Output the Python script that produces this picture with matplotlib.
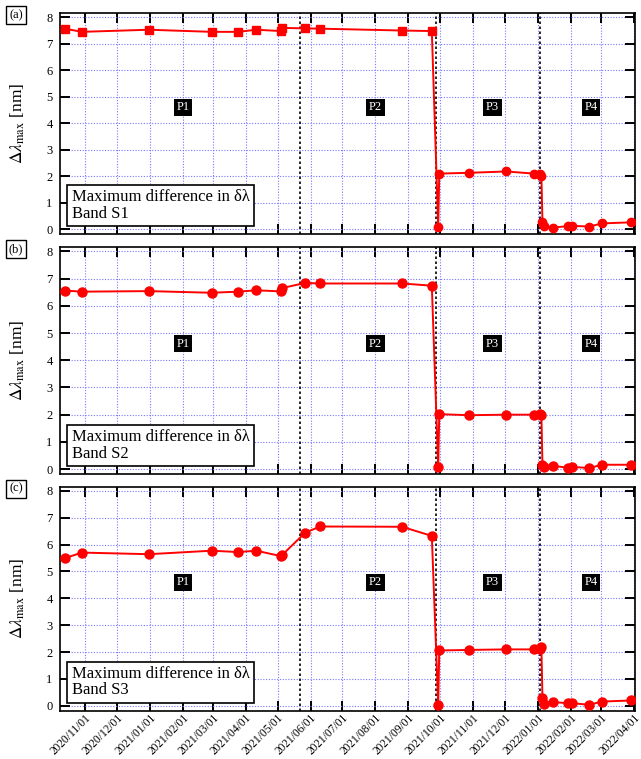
import numpy as np
import pandas as pd
import matplotlib
matplotlib.use("Agg")
import matplotlib.pyplot as plt
import matplotlib.dates as mdates

plt.rcParams['font.family'] = ['Liberation Serif', 'DejaVu Serif']
plt.rcParams['mathtext.fontset'] = 'stix'

# measurement dates (same for all three bands)
dates = pd.to_datetime([
    "2020-10-13", "2020-10-29", "2020-12-31", "2021-02-28", "2021-03-25",
    "2021-04-11", "2021-05-04", "2021-05-05", "2021-05-27", "2021-06-10",
    "2021-08-26", "2021-09-23", "2021-09-29", "2021-09-30", "2021-10-28",
    "2021-12-02", "2021-12-28", "2022-01-03", "2022-01-04", "2022-01-05",
    "2022-01-06", "2022-01-15", "2022-01-29", "2022-02-02", "2022-02-18",
    "2022-03-02", "2022-03-29",
])

# maximum difference in delta-lambda [nm] per band
band_s1 = [7.57, 7.45, 7.53, 7.45, 7.45, 7.53, 7.48, 7.60, 7.58, 7.57,
           7.50, 7.48, 0.10, 2.10, 2.13, 2.18, 2.10, 2.10, 2.02, 0.28,
           0.13, 0.06, 0.12, 0.13, 0.10, 0.22, 0.26]
band_s2 = [6.56, 6.52, 6.54, 6.48, 6.52, 6.57, 6.53, 6.65, 6.84, 6.82,
           6.82, 6.74, 0.08, 2.02, 1.98, 2.00, 2.00, 2.02, 2.00, 0.16,
           0.08, 0.12, 0.05, 0.08, 0.04, 0.16, 0.16]
band_s3 = [5.49, 5.70, 5.64, 5.77, 5.72, 5.77, 5.57, 5.60, 6.44, 6.67,
           6.66, 6.32, 0.04, 2.06, 2.08, 2.10, 2.10, 2.12, 2.18, 0.28,
           0.08, 0.14, 0.10, 0.10, 0.04, 0.16, 0.20]

bands = ["S1", "S2", "S3"]
panel_tags = ["(a)", "(b)", "(c)"]
series = [band_s1, band_s2, band_s3]

# period boundaries and period labels
boundaries = pd.to_datetime(["2021-05-22", "2021-09-27", "2022-01-03"])
period_names = ["P1", "P2", "P3", "P4"]
period_pos = pd.to_datetime(["2021-02-01", "2021-08-01", "2021-11-19", "2022-02-20"])
period_y = 4.6

W, H = 641, 759
fig = plt.figure(figsize=(W / 100, H / 100), dpi=100)

# axes boxes in pixels: left, top, right, bottom
boxes = [(59.5, 13.3, 635, 234), (59.5, 247.3, 635, 474), (59.5, 486.7, 635, 710.7)]

xmin = pd.Timestamp("2020-10-08")
xmax = pd.Timestamp("2022-04-02")
ticks = pd.date_range("2020-11-01", "2022-04-01", freq="MS")

for i, (l, t, r, b) in enumerate(boxes):
    ax = fig.add_axes([l / W, 1 - b / H, (r - l) / W, (b - t) / H])
    vals = series[i]

    ax.plot(dates, vals, color="red", lw=1.4, zorder=3)
    if i == 0:
        n = 12
        ax.plot(dates[:n], vals[:n], ls="none", marker="s", ms=5.5, color="red", zorder=4)
        ax.plot(dates[n:], vals[n:], ls="none", marker="o", ms=6, color="red", zorder=4)
    else:
        ax.plot(dates, vals, ls="none", marker="o", ms=6.5, color="red", zorder=4)

    for d in boundaries:
        ax.axvline(d, color="black", ls=(0, (1.5, 1.5)), lw=1.2, zorder=2)

    for name, d in zip(period_names, period_pos):
        ax.text(d, period_y, name, color="white", fontsize=9, ha="center", va="center",
                bbox=dict(boxstyle="square,pad=0.2", fc="black", ec="none"), zorder=5)

    ax.text(0.021, 0.055, "Maximum difference in δλ\nBand " + bands[i], transform=ax.transAxes,
            fontsize=12, ha="left", va="bottom", linespacing=1.05, zorder=6,
            bbox=dict(boxstyle="square,pad=0.25", fc="white", ec="black", lw=1.2))

    ax.set_xlim(xmin, xmax)
    ax.set_ylim(-0.18, 8.15)
    ax.set_yticks(range(0, 9))
    ax.set_xticks(ticks)
    ax.grid(True, color="#7777ff", ls=(0, (1, 1.5)), lw=0.8)
    ax.set_axisbelow(True)
    ax.tick_params(direction="in", length=7, width=1.4, top=True, right=True, labelsize=9, pad=5)
    for s in ax.spines.values():
        s.set_linewidth(1.2)

    ax.set_ylabel(r"$\Delta\lambda_{\mathrm{max}}$ [nm]", fontsize=12.5, labelpad=14)

    if i == 2:
        ax.xaxis.set_major_formatter(mdates.DateFormatter("%Y/%m/%d"))
        ax.tick_params(axis="x", pad=1)
        plt.setp(ax.get_xticklabels(), rotation=45, ha="right", rotation_mode="anchor", fontsize=8.3)
    else:
        ax.set_xticklabels([])

    fig.text(16 / W, 1 - (t + 2) / H, panel_tags[i], fontsize=9, ha="center", va="center",
             bbox=dict(boxstyle="square,pad=0.25", fc="white", ec="black", lw=1))

fig.savefig("out.png", dpi=100)
